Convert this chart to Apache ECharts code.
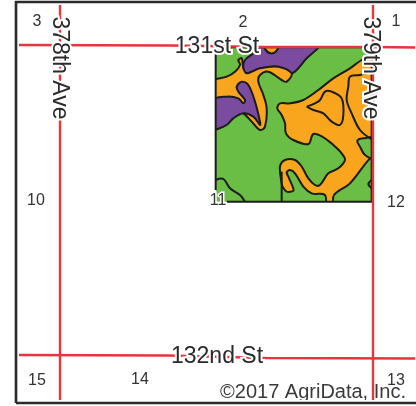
<!DOCTYPE html>
<html><head><meta charset="utf-8">
<style>html,body{margin:0;padding:0;background:#fff}#c{width:416px;height:406px}</style>
<script src="https://cdn.jsdelivr.net/npm/echarts@6/dist/echarts.min.js"></script>
</head><body><div id="c"></div>
<script>
// Soil map polygons, in tracing units (second axis pair)
const fieldBoundary=[[47,52],[515,52],[515,515],[47,515]];
const purpleTop=[[178,40],[170,62],[135,90],[130,115],[140,130],[180,115],[235,110],[275,130],[320,85],[358,50],[358,40]];
const orangeTopBlob=[[192,40],[196,58],[212,70],[230,62],[234,40]];
const orangeWest=[[35,155],[80,140],[105,125],[120,105],[115,90],[125,85],[130,115],[140,130],[180,115],[235,110],[275,130],[260,155],[245,150],[205,125],[180,135],[175,155],[190,195],[200,235],[195,290],[180,300],[155,275],[130,250],[100,240],[60,215],[35,212]];
const purpleWest=[[35,212],[80,200],[115,205],[130,220],[135,210],[115,185],[110,170],[125,155],[145,165],[165,215],[180,275],[180,285],[160,260],[130,250],[100,265],[80,285],[45,300],[35,302]];
const orangeEast=[[530,70],[485,90],[450,115],[400,145],[355,180],[310,210],[270,220],[240,220],[232,235],[245,255],[255,280],[258,310],[280,330],[325,342],[340,312],[370,322],[400,345],[425,370],[435,390],[415,415],[385,430],[360,465],[345,465],[325,445],[305,410],[285,390],[255,390],[240,410],[245,460],[248,470],[260,485],[280,482],[278,470],[265,440],[260,427],[270,420],[285,430],[310,470],[335,490],[375,495],[380,530],[398,530],[402,495],[450,460],[510,385],[530,378]];
const greenNotchEast=[[530,325],[490,325],[472,332],[480,350],[495,375],[530,388]];
const soilLines=[
 [[47,450],[70,447],[90,475],[120,495],[135,515]],
 [[245,425],[245,515]],
 [[320,230],[345,220],[360,210],[375,185],[395,185],[425,205],[430,255],[420,285],[395,275],[370,250],[340,240],[320,230]],
 [[515,125],[480,135],[450,140],[445,170],[440,210],[455,250],[480,300],[515,328]],
 [[515,450],[505,462],[515,475]]
];
const boxEdge=[[47,480],[47,52],[515,52],[515,515],[80,515]];
// Roads, frame and labels, in page units (first axis pair)
const road131=[[19,45],[172,45.5],[265,47],[372,47],[415,47.5]];
const road132=[[19,355],[168,355.5],[265,358],[415,358.5]];
const road378=[[60,5],[60,400]];
const road379=[[373,5],[373,400]];
const frameLine=[[16,403],[16,2],[416,2]];
const frameBottom=[[16,403],[416,403]];
const bottomMask=[[17,400],[416,400],[416,402],[17,402]];
const sectionNumbers=[['3',37,22],['2',243,23],['1',396,22],['10',36,201],['11',218,201],['12',396,203],['15',37,381],['14',140,380],['13',396,381]];
const roadNames=[['131st St',217,47,0],['132nd St',217,357,0],['378th Ave',59,68,-90],['379th Ave',370,68,-90]];
const copyright=[['©2017 AgriData, Inc.',313,392]];

const BLACK='#1c1c1c',GREEN='#6abd45',ORANGE='#faa51e',PURPLE='#7a4b9e',RED='#e8343c';
const FONT='"Liberation Sans",Arial,sans-serif';
function poly(points,fill,stroke,smooth,z,page){
  return {type:'custom',coordinateSystem:'cartesian2d',xAxisIndex:page?0:1,yAxisIndex:page?0:1,z:z,silent:true,clip:false,data:[0],
    renderItem:(p,api)=>{
      const a=api.coord([47,52]),b=api.coord([515,515]);
      const pts=points.map(q=>api.coord(q));
      const el={type:'polygon',shape:{points:pts,smooth:smooth},style:{fill:fill,stroke:stroke,lineWidth:2,lineJoin:'round'}};
      if(!page) el.clipPath={type:'rect',shape:{x:a[0],y:a[1],width:b[0]-a[0],height:b[1]-a[1]}};
      return el;
    }};
}
function curve(points,color,w,smooth,z,page){
  return {type:'custom',coordinateSystem:'cartesian2d',xAxisIndex:page?0:1,yAxisIndex:page?0:1,z:z,silent:true,clip:false,data:[0],
    renderItem:(p,api)=>({type:'polyline',shape:{points:points.map(q=>api.coord(q)),smooth:smooth},style:{fill:null,stroke:color,lineWidth:w,lineCap:'butt',lineJoin:'miter'}})};
}
function texts(rows,size,color,halo,z){
  return {type:'custom',coordinateSystem:'cartesian2d',xAxisIndex:0,yAxisIndex:0,z:z,silent:true,clip:false,data:rows.map((r,i)=>[r[1],r[2],i]),
    renderItem:(p,api)=>{
      const r=rows[api.value(2)],c=api.coord([r[1],r[2]]);
      return {type:'text',x:c[0],y:c[1],rotation:(r[3]||0)*Math.PI/180,
        style:{text:r[0],font:size+'px '+FONT,fill:color,stroke:halo?'#fff':null,lineWidth:halo||0,align:'center',verticalAlign:'middle'}};
    }};
}
const series=[
  poly(fieldBoundary,GREEN,null,0,1),
  poly(purpleTop,PURPLE,BLACK,0.35,2),
  poly(orangeTopBlob,ORANGE,BLACK,0.35,3),
  poly(orangeWest,ORANGE,BLACK,0.35,3),
  poly(purpleWest,PURPLE,BLACK,0.35,4),
  poly(orangeEast,ORANGE,BLACK,0.35,3),
  poly(greenNotchEast,GREEN,BLACK,0.35,4),
  ...soilLines.map(l=>curve(l,BLACK,2,0.35,5)),
  curve(boxEdge,BLACK,2,0,6),
  curve(road131,RED,2.4,0,7,true),
  curve(road132,RED,2.4,0,7,true),
  curve(road378,RED,2.4,0,7,true),
  curve(road379,RED,2.4,0,7,true),
  texts(sectionNumbers,16,'#333',3,8),
  texts(roadNames,23,'#2a2a2a',4,9),
  texts(copyright,20,'#3a3a3a',0,10),
  poly(bottomMask,'#fff',null,0,11,true),
  curve(frameLine,'#2a2a2a',2.6,0,12,true),
  curve(frameBottom,'#2a2a2a',2.6,0,12,true)
];
const chart=echarts.init(document.getElementById('c'),null,{renderer:'canvas'});
const hidden={show:false,scale:false};
chart.setOption({animation:false,backgroundColor:'#fff',
  grid:{left:0,right:0,top:0,bottom:0},
  xAxis:[{type:'value',min:0,max:416,...hidden},{type:'value',min:-600,max:648,...hidden}],
  yAxis:[{type:'value',min:0,max:406,inverse:true,...hidden},{type:'value',min:-90,max:1128,inverse:true,...hidden}],
  series});
</script></body></html>
